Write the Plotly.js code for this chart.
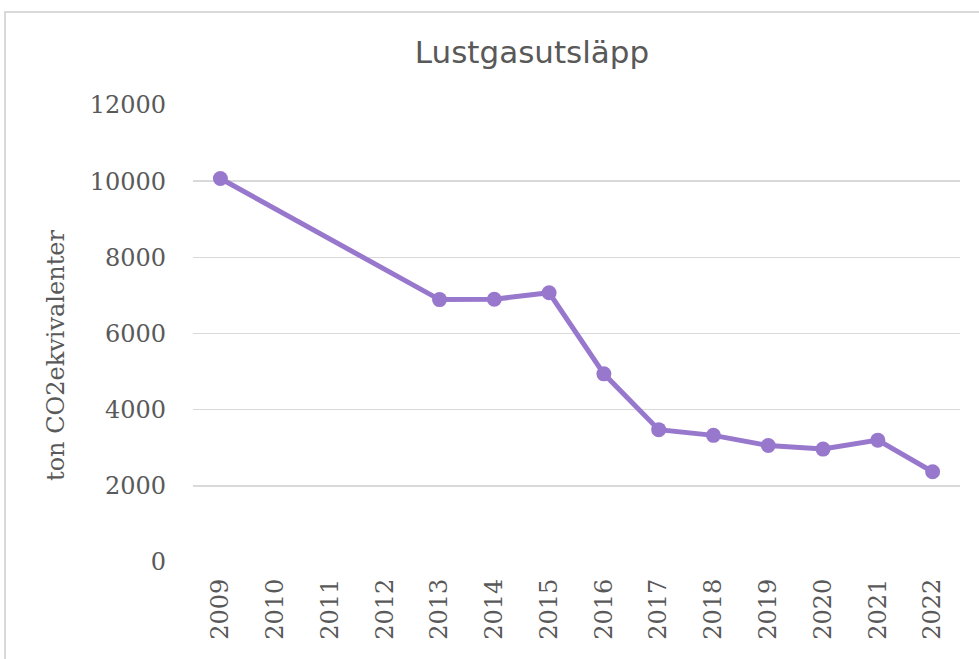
<!DOCTYPE html>
<html>
<head>
<meta charset="utf-8">
<script src="https://cdn.plot.ly/plotly-3.0.1.min.js"></script>
<style>
  html, body { margin: 0; padding: 0; background: #ffffff; overflow: hidden; }
  #frame { position: absolute; left: 4px; top: 11px; width: 990px; height: 700px;
           border-left: 2px solid #d9d9d9; border-top: 2px solid #d9d9d9; box-sizing: border-box; }
  #chart { position: absolute; left: 0; top: 0; width: 979px; height: 659px; }
</style>
</head>
<body>
<div id="frame"></div>
<div id="chart"></div>
<script>
const years = ["2009","2010","2011","2012","2013","2014","2015","2016","2017","2018","2019","2020","2021","2022"];
const emissions = [10070, null, null, null, 6890, 6900, 7070, 4940, 3475, 3325, 3060, 2965, 3200, 2370];
const yTicks = [0, 2000, 4000, 6000, 8000, 10000, 12000];
const chartTitle = "Lustgasutsläpp";
const yTitle = "ton CO2ekvivalenter";

const purple = "#9878cd";
const grey = "#595959";

const trace = {
  type: "scatter",
  mode: "lines+markers",
  x: years,
  y: emissions,
  connectgaps: true,
  line: { color: purple, width: 5 },
  marker: { color: purple, size: 15 },
  hoverinfo: "x+y"
};

const layout = {
  width: 979,
  height: 659,
  margin: { l: 193, r: 19, t: 105, b: 97 },
  paper_bgcolor: "rgba(0,0,0,0)",
  plot_bgcolor: "rgba(0,0,0,0)",
  showlegend: false,
  title: {
    text: chartTitle,
    font: { family: "DejaVu Sans", size: 31, color: grey },
    x: (532 - 193) / 767, xanchor: "center", xref: "paper",
    y: 1 - 52 / 659, yanchor: "middle"
  },
  xaxis: {
    type: "category",
    categoryorder: "array",
    categoryarray: years,
    range: [-0.5, years.length - 0.5],
    tickangle: -90,
    tickfont: { family: "DejaVu Serif", size: 24, color: grey },
    ticks: "",
    ticklabelstandoff: 11,
    showgrid: false,
    showline: false,
    zeroline: false,
    fixedrange: true
  },
  yaxis: {
    range: [0, 12000],
    tickvals: yTicks,
    ticktext: yTicks.map(String),
    tickfont: { family: "DejaVu Serif", size: 24, color: grey },
    ticks: "",
    ticklabelstandoff: 26,
    showgrid: true,
    gridcolor: "#d9d9d9",
    gridwidth: 1.5,
    zeroline: false,
    showline: false,
    fixedrange: true
  },
  annotations: [{
    text: yTitle,
    textangle: -90,
    xref: "paper", yref: "paper",
    x: (56 - 193) / 767, y: (562 - 355) / 457,
    xanchor: "center", yanchor: "middle",
    showarrow: false,
    font: { family: "DejaVu Serif", size: 24, color: grey }
  }]
};

Plotly.newPlot("chart", [trace], layout, { displayModeBar: false, staticPlot: true });
</script>
</body>
</html>
